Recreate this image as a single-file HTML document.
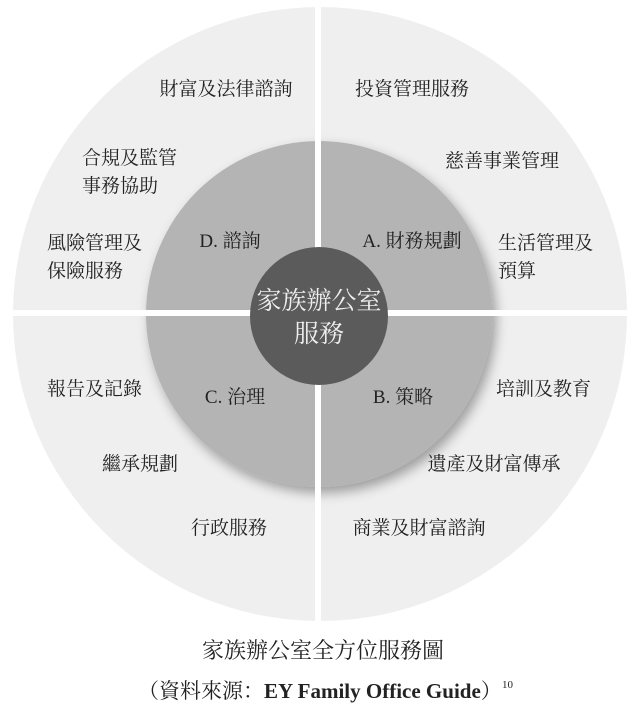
<!DOCTYPE html>
<html><head><meta charset="utf-8"><style>
html,body{margin:0;padding:0;background:#fff;width:636px;height:706px;overflow:hidden}
svg text{font-family:"Liberation Serif","Noto Serif CJK SC","Noto Sans CJK TC",serif;fill:#222;font-size:19px}
</style></head><body>
<svg width="636" height="706" viewBox="0 0 636 706">
<defs>
<filter id="sh" x="-20%" y="-20%" width="140%" height="140%">
<feGaussianBlur in="SourceAlpha" stdDeviation="6"/><feOffset dx="4" dy="6"/>
<feComponentTransfer><feFuncA type="linear" slope="0.35"/></feComponentTransfer>
<feMerge><feMergeNode/><feMergeNode in="SourceGraphic"/></feMerge></filter>
</defs>
<circle cx="320" cy="314" r="307" fill="#efefef"/>
<circle cx="319" cy="314" r="173" fill="#b4b4b4" filter="url(#sh)"/>
<rect x="315" y="0" width="6" height="630" fill="#fff"/>
<rect x="0" y="310" width="636" height="6" fill="#fff"/>
<circle cx="319" cy="316" r="69" fill="#5b5b5b"/>
<g text-anchor="middle">
<text x="226" y="95">財富及法律諮詢</text>
<text x="412" y="95">投資管理服務</text>
<text x="502" y="167">慈善事業管理</text>
<text x="230" y="247">D. 諮詢</text>
<text x="412" y="247">A. 財務規劃</text>
<text x="235" y="403">C. 治理</text>
<text x="403" y="403">B. 策略</text>
<text x="140" y="470">繼承規劃</text>
<text x="494" y="470">遺產及財富傳承</text>
<text x="229" y="534">行政服務</text>
<text x="419" y="534">商業及財富諮詢</text>
<text x="319" y="309" style="fill:#eee;font-size:25px">家族辦公室</text>
<text x="319" y="342" style="fill:#eee;font-size:25px">服務</text>
<text x="323" y="658" style="font-size:22px">家族辦公室全方位服務圖</text>
</g>
<text x="138" y="698" style="font-size:21px">（資料來源：<tspan style="font-weight:bold">EY Family Office Guide</tspan>）</text>
<text x="82" y="164">合規及監管</text>
<text x="82" y="192">事務協助</text>
<text x="47" y="249">風險管理及</text>
<text x="47" y="277">保險服務</text>
<text x="498" y="249">生活管理及</text>
<text x="498" y="277">預算</text>
<text x="47" y="395">報告及記錄</text>
<text x="496" y="395">培訓及教育</text>
<text x="502" y="688" style="font-size:11px">10</text>
</svg>
</body></html>
